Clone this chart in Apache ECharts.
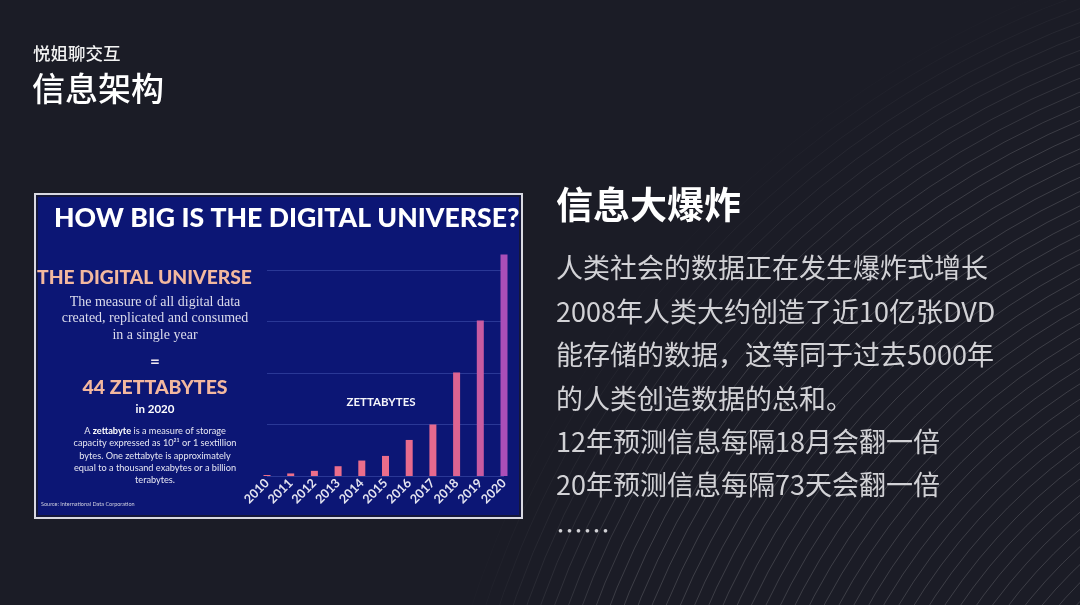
<!DOCTYPE html>
<html>
<head>
<meta charset="utf-8">
<script src="https://cdn.jsdelivr.net/npm/echarts@6/dist/echarts.min.js"></script>
<style>
html,body{margin:0;padding:0;background:#1b1c26;}
#c{width:1080px;height:605px;}
</style>
</head>
<body>
<div id="c"></div>
<script>
// ---- data ----
var years = ['2010','2011','2012','2013','2014','2015','2016','2017','2018','2019','2020'];
var zettabytes = [0.2, 0.5, 1.0, 1.9, 3.0, 3.9, 7.0, 10.0, 20.1, 30.2, 43];
var gridStep = 10;
var headerSmall = '悦姐聊交互';
var headerBig = '信息架构';
var rightTitle = '信息大爆炸';
var bodyLines = [
  '人类社会的数据正在发生爆炸式增长',
  '2008年人类大约创造了近10亿张DVD',
  '能存储的数据，这等同于过去5000年',
  '的人类创造数据的总和。',
  '12年预测信息每隔18月会翻一倍',
  '20年预测信息每隔73天会翻一倍',
  '……'
];
var panelTitle = 'HOW BIG IS THE DIGITAL UNIVERSE?';
var descLines = ['The measure of all digital data', 'created, replicated and consumed', 'in a single year'];
var noteLines = [
  'A {b|zettabyte} is a measure of storage',
  'capacity expressed as 10²¹ or 1 sextillion',
  'bytes. One zettabyte is approximately',
  'equal to a thousand exabytes or a billion',
  'terabytes.'
];

var chart = echarts.init(document.getElementById('c'));
var cjk = '"Noto Sans CJK SC", "Noto Sans", sans-serif';
var g = [];

// background arcs (decoration)
for (var r = 440; r <= 1010; r += 13) {
  var a = r < 860 ? 0.15 : 0.15 * (1010 - r) / 150;
  g.push({type:'circle', silent:true, z:0, shape:{cx:1420, cy:920, r:r},
    style:{fill:'none', stroke:'rgba(255,255,255,' + a.toFixed(3) + ')', lineWidth:1}});
}
// panel
g.push({type:'rect', z:0, silent:true, shape:{x:34, y:193, width:489, height:326}, style:{fill:'#d9d9e2'}});
g.push({type:'rect', z:0, silent:true, shape:{x:36, y:195, width:485, height:322}, style:{fill:'#15173a'}});
g.push({type:'rect', z:0, silent:true, shape:{x:38, y:197, width:481, height:318}, style:{fill:'#0c1675'}});

function txt(x, y, text, font, fill, align, extra) {
  var s = {text:text, x:x, y:y, font:font, fill:fill, align:align || 'left', verticalAlign:'middle'};
  if (extra) for (var k in extra) s[k] = extra[k];
  g.push({type:'text', z:5, silent:true, style:s});
}

// header
txt(33, 53, headerSmall, '500 17.5px ' + cjk, '#f2f2f2');
txt(32, 88, headerBig, '500 33px ' + cjk, '#ffffff');
// right text
txt(556, 205, rightTitle, 'bold 37px ' + cjk, '#ffffff');
var ys = [268, 312, 355, 399, 442, 485, 531];
bodyLines.forEach(function (l, i) { txt(556, ys[i], l, '400 27px ' + cjk, '#d2d2d6'); });

// panel texts
txt(54, 218, panelTitle, '900 26.6px Lato', '#ffffff');
txt(37, 278, 'THE DIGITAL UNIVERSE', '900 19.3px Lato', '#f3b89f');
descLines.forEach(function (l, i) { txt(155, 302 + i * 16.5, l, '14px "Liberation Serif", serif', '#dcdcec', 'center'); });
txt(155, 362, '=', 'bold 17px Lato', '#f0e8ee', 'center');
txt(155, 388, '44 ZETTABYTES', '900 19.5px Lato', '#f3b89f', 'center');
txt(155, 409, 'in 2020', 'bold 11.5px Lato', '#ffffff', 'center');
noteLines.forEach(function (l, i) {
  txt(155, 431 + i * 12.3, l, '9.2px Lato', '#e6e6f2', 'center', {rich:{b:{font:'bold 9.2px Lato', fill:'#ffffff'}}});
});
txt(41, 504, 'Source: International Data Corporation', '5.5px Lato', '#d0d0e0');
txt(381, 402, 'ZETTABYTES', 'bold 11.5px Lato', '#f4f4fa', 'center');

chart.setOption({
  backgroundColor: '#1b1c26',
  animation: false,
  graphic: g,
  grid: {left: 267, right: 576, top: 254.5, bottom: 129, containLabel: false},
  visualMap: {show: false, type: 'continuous', min: 0, max: 43, dimension: 1,
    inRange: {color: ['#ee6f8a', '#dc6392', '#aa4eb8']}},
  xAxis: {type: 'category', data: years, boundaryGap: false,
    axisLine: {show: false}, axisTick: {show: false},
    axisLabel: {interval: 0, rotate: 45, margin: 5, color: '#e4e4f0', fontSize: 12.5, fontFamily: 'Lato', fontWeight: 'bold'}},
  yAxis: {type: 'value', min: 0, max: 43, interval: gridStep,
    axisLine: {show: false}, axisTick: {show: false}, axisLabel: {show: false},
    splitLine: {show: true, showMinLine: true, showMaxLine: false, lineStyle: {color: '#2a3896', width: 1}}},
  series: [{type: 'bar', data: zettabytes, barWidth: 7, clip: false, z: 3}]
});
</script>
</body>
</html>
